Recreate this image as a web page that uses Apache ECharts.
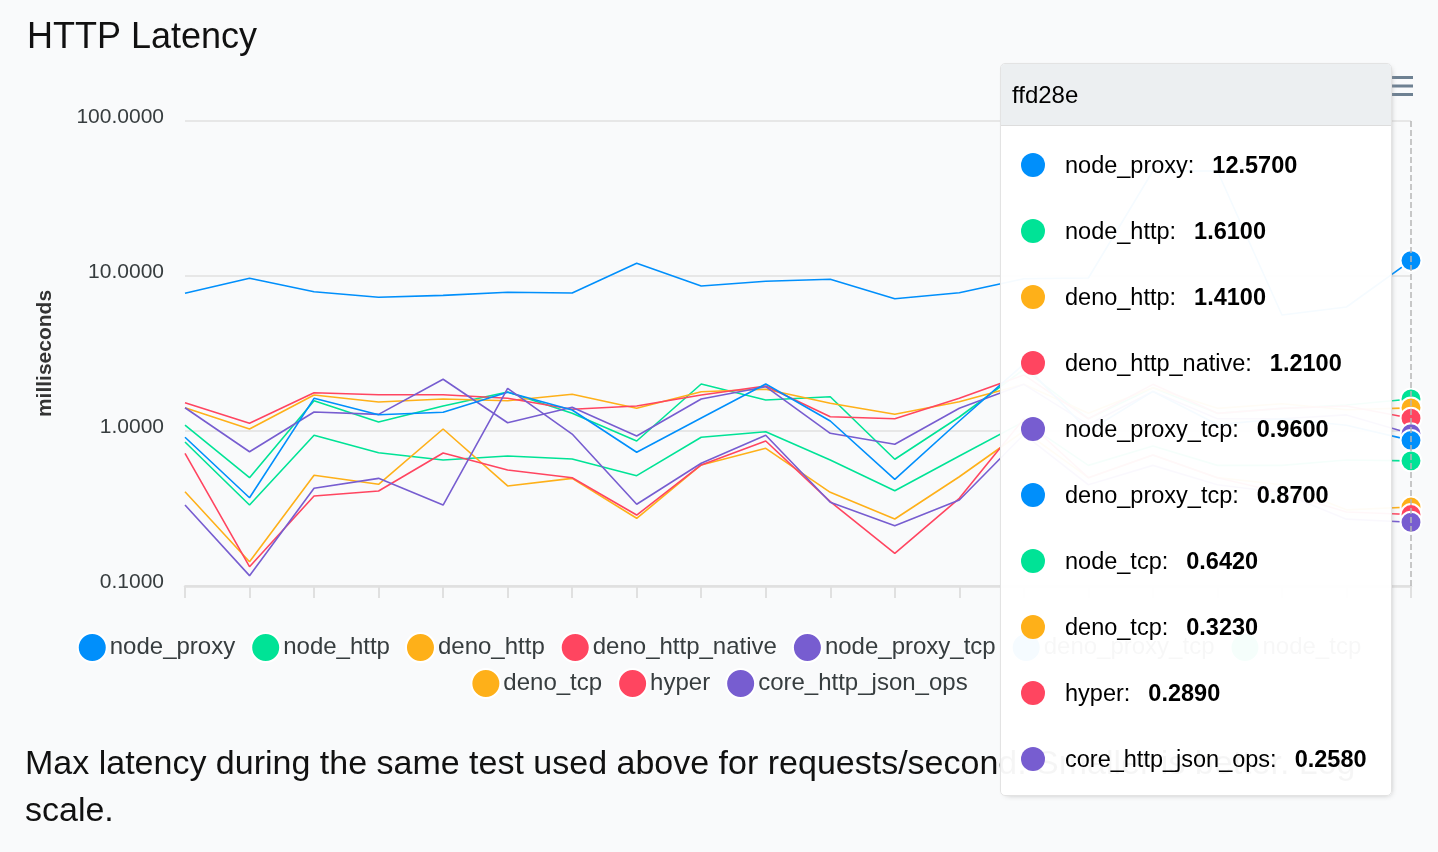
<!DOCTYPE html>
<html>
<head>
<meta charset="utf-8">
<script src="https://cdn.jsdelivr.net/npm/echarts@6/dist/echarts.min.js"></script>
<style>
  html, body { margin: 0; padding: 0; background: #f9fafb; }
  #chart { width: 1438px; height: 852px; }
</style>
</head>
<body>
<div id="chart"></div>
<script>
// ---- data ----
const categories = ["c01","c02","c03","c04","c05","c06","c07","c08","c09","c10","c11","c12","c13","c14","c15","c16","c17","c18","c19","ffd28e"];
const yTicks = [0.1, 1, 10, 100];
const seriesNames = ["node_proxy","node_http","deno_http","deno_http_native","node_proxy_tcp","deno_proxy_tcp","node_tcp","deno_tcp","hyper","core_http_json_ops"];
const node_proxy         = [7.73, 9.67, 7.92, 7.29, 7.5, 7.85, 7.77, 12.08, 8.62, 9.25, 9.52, 7.14, 7.8, 9.6, 9.71, 47.6, 47.6, 5.6, 6.31, 12.57];
const node_http          = [1.093, 0.4995, 1.569, 1.143, 1.45, 1.785, 1.301, 0.862, 2.01, 1.585, 1.664, 0.657, 1.231, 2.5, 1.2, 1.9, 1.3, 1.4, 1.47, 1.61];
const deno_http          = [1.413, 1.03, 1.707, 1.538, 1.609, 1.569, 1.725, 1.401, 1.793, 1.858, 1.509, 1.281, 1.546, 2.0, 1.3, 1.9, 1.4, 1.5, 1.37, 1.41];
const deno_http_native   = [1.523, 1.121, 1.766, 1.715, 1.715, 1.625, 1.38, 1.45, 1.707, 1.951, 1.237, 1.2, 1.625, 2.3, 1.2, 2.0, 1.3, 1.4, 1.45, 1.21];
const node_proxy_tcp     = [1.413, 0.735, 1.326, 1.281, 2.156, 1.131, 1.422, 0.929, 1.609, 1.931, 0.966, 0.821, 1.401, 2.0, 1.1, 1.8, 1.2, 1.2, 1.27, 0.96];
const deno_proxy_tcp     = [0.911, 0.371, 1.625, 1.274, 1.32, 1.777, 1.366, 0.729, 1.213, 2.01, 1.16, 0.488, 1.16, 2.7, 1.0, 1.8, 1.1, 1.2, 1.09, 0.87];
const node_tcp           = [0.849, 0.333, 0.938, 0.7245, 0.65, 0.69, 0.66, 0.515, 0.911, 0.99, 0.65, 0.412, 0.69, 1.15, 0.6, 0.8, 0.6, 0.6, 0.65, 0.642];
const deno_tcp           = [0.406, 0.1435, 0.518, 0.453, 1.03, 0.442, 0.495, 0.2734, 0.604, 0.773, 0.402, 0.2706, 0.507, 1.0, 0.5, 0.7, 0.5, 0.45, 0.31, 0.323];
const hyper              = [0.718, 0.1332, 0.381, 0.41, 0.721, 0.56, 0.4995, 0.287, 0.604, 0.862, 0.35, 0.1626, 0.368, 1.2, 0.5, 0.7, 0.5, 0.4, 0.3, 0.289];
const core_http_json_ops = [0.333, 0.1166, 0.427, 0.495, 0.333, 1.886, 0.956, 0.3366, 0.619, 0.938, 0.3467, 0.245, 0.3588, 0.95, 0.45, 0.6, 0.45, 0.4, 0.27, 0.258];
const seriesData = [node_proxy, node_http, deno_http, deno_http_native, node_proxy_tcp, deno_proxy_tcp, node_tcp, deno_tcp, hyper, core_http_json_ops];
const palette = ["#008FFB","#00E396","#FEB019","#FF4560","#775DD0"];

// ---- chart ----
const FONT = "'Liberation Sans', Arial, Helvetica, sans-serif";
const chart = echarts.init(document.getElementById('chart'), null, { renderer: 'canvas' });
const lastIdx = categories.length - 1;

const series = seriesNames.map((name, i) => ({
  name: name,
  type: 'line',
  data: seriesData[i],
  color: palette[i % 5],
  lineStyle: { width: 1.6 },
  symbol: 'circle',
  showSymbol: true,
  showAllSymbol: true,
  symbolSize: (v, p) => (p.dataIndex === lastIdx ? 19 : 0),
  itemStyle: { borderColor: '#fff', borderWidth: 2 },
  emphasis: { disabled: true },
  animation: false
}));

const legendBase = {
  left: 'center',
  icon: 'circle', itemWidth: 29, itemHeight: 29, itemGap: 15,
  textStyle: { fontSize: 24, color: '#373d3f', fontFamily: FONT, padding: [0, 0, 0, -2] }
};

const option = {
  animation: false,
  backgroundColor: '#f9fafb',
  textStyle: { fontFamily: FONT },
  color: palette,
  title: {
    text: 'HTTP Latency',
    left: 22, top: 15,
    textStyle: { fontSize: 36, fontWeight: 'normal', color: '#111', fontFamily: FONT }
  },
  grid: { left: 185, right: 27, top: 121, bottom: 266, containLabel: false },
  xAxis: {
    type: 'category',
    data: categories,
    boundaryGap: false,
    axisLine: { show: true, lineStyle: { color: '#e0e0e0', width: 2.5 } },
    axisTick: { show: true, alignWithLabel: true, length: 12, lineStyle: { color: '#e0e0e0', width: 2 } },
    axisLabel: { show: false },
    splitLine: { show: false }
  },
  yAxis: {
    type: 'log',
    logBase: 10,
    min: yTicks[0],
    max: yTicks[yTicks.length - 1],
    name: 'milliseconds',
    nameLocation: 'middle',
    nameGap: 129,
    nameRotate: 90,
    nameTextStyle: { fontSize: 21, fontWeight: 'bold', color: '#333', fontFamily: FONT },
    axisLine: { show: false },
    axisTick: { show: false },
    axisLabel: {
      fontSize: 21, color: '#373d3f', margin: 21, fontFamily: FONT,
      formatter: v => '{a|' + Number(v).toFixed(4) + '}',
      rich: { a: { fontSize: 21, color: '#373d3f', fontFamily: FONT, padding: [0, 0, 7, 0] } }
    },
    splitLine: { show: true, lineStyle: { color: '#e0e0e0', width: 1.5 } }
  },
  legend: [
    Object.assign({ data: seriesNames.slice(0, 7), top: 627 }, legendBase),
    Object.assign({ data: seriesNames.slice(7), top: 663 }, legendBase)
  ],
  tooltip: {
    trigger: 'axis',
    triggerOn: 'none',
    alwaysShowContent: true,
    transitionDuration: 0,
    position: [1000, 63],
    padding: 0,
    backgroundColor: 'rgba(255,255,255,0.96)',
    borderColor: '#e3e3e3',
    borderWidth: 1,
    borderRadius: 5,
    extraCssText: 'box-shadow: 2px 2px 6px -4px #999; width: 390px; overflow: hidden;',
    axisPointer: {
      type: 'line',
      lineStyle: { color: '#b6b6b6', type: 'dashed', width: 1.5 }
    },
    formatter: function (params) {
      let html = '<div style="font-family:' + FONT.replace(/'/g, '') + ';">';
      html += '<div style="height:61px;line-height:61px;background:#eceff1;border-bottom:1px solid #ddd;padding-left:11px;font-size:24px;color:#000;">' + params[0].axisValue + '</div>';
      html += '<div style="padding:6px 0 3px 0;">';
      params.forEach(p => {
        html += '<div style="height:66px;display:flex;align-items:center;padding-left:20px;font-size:23.5px;color:#000;">' +
          '<span style="display:inline-block;width:24px;height:24px;border-radius:12px;background:' + p.color + ';margin-right:20px;"></span>' +
          '<span>' + p.seriesName + ':</span>' +
          '<span style="font-weight:bold;margin-left:18px;">' + Number(p.value).toFixed(4) + '</span></div>';
      });
      html += '</div></div>';
      return html;
    }
  },
  graphic: [
    { type: 'rect', shape: { x: 1392, y: 76, width: 21, height: 3 }, style: { fill: '#6e8192' } },
    { type: 'rect', shape: { x: 1392, y: 84.5, width: 21, height: 3 }, style: { fill: '#6e8192' } },
    { type: 'rect', shape: { x: 1392, y: 93, width: 21, height: 3 }, style: { fill: '#6e8192' } },
    { type: 'text', left: 25, top: 748, style: { text: 'Max latency during the same test used above for requests/second. Smaller is better. Log', font: '34px ' + FONT, fill: '#111' } },
    { type: 'text', left: 25, top: 795, style: { text: 'scale.', font: '34px ' + FONT, fill: '#111' } }
  ],
  series: series
};

chart.setOption(option);
chart.dispatchAction({ type: 'showTip', seriesIndex: 0, dataIndex: lastIdx });
</script>
</body>
</html>
